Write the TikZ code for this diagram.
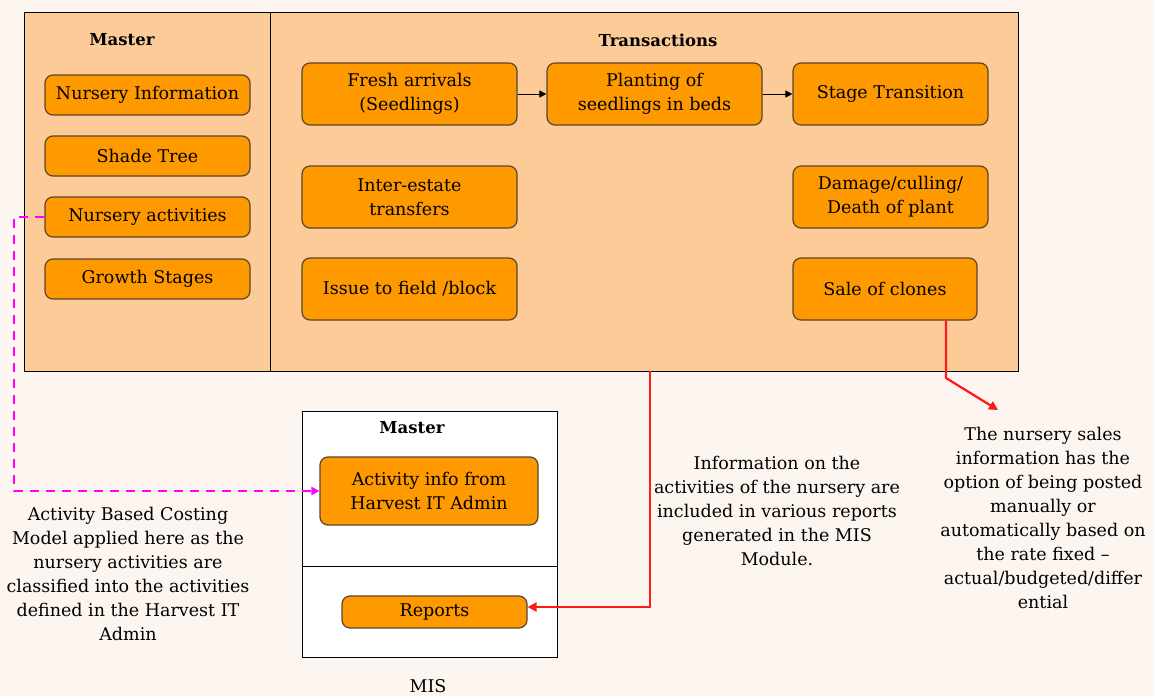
\documentclass[tikz,border=0pt]{standalone}
\usepackage{fontspec}
\setmainfont{DejaVu Serif}
\usetikzlibrary{arrows.meta, positioning}

\definecolor{pagebg}{HTML}{FDF6F0}
\definecolor{panelfill}{HTML}{FCCB98}
\definecolor{itemfill}{HTML}{FF9900}
\definecolor{itemline}{HTML}{5A4630}
\definecolor{linkred}{HTML}{FF1A1A}
\definecolor{linkmag}{HTML}{FF00FF}

\begin{document}
\begin{tikzpicture}[x=1pt, y=-1pt,
  font=\fontsize{17.5}{24}\selectfont,
  item/.style={draw=itemline, fill=itemfill, rounded corners=8pt, line width=1.2pt,
    align=center, inner sep=0pt},
  heading/.style={font=\fontsize{16.5}{20}\selectfont\bfseries},
  note/.style={align=center, inner sep=0pt},
  flow/.style={draw=black, line width=1pt, -{Triangle[length=7pt,width=7pt]}},
  redlink/.style={draw=linkred, line width=2.2pt, -{Triangle[length=9pt,width=9pt]}},
  maglink/.style={draw=linkmag, line width=2.2pt, dash pattern=on 9pt off 7pt,
    -{Triangle[length=8pt,width=8pt]}}]

  % page and panels
  \fill[pagebg] (0,0) rectangle (1154,696);
  \useasboundingbox (0,0) rectangle (1154,696);
  \draw[fill=panelfill, line width=1pt] (24,12) rectangle (1018,371);
  \draw[line width=1pt] (270,12) -- (270,371);
  \draw[fill=white, line width=1pt] (302,411) rectangle (557,657);
  \draw[line width=1pt] (302,566) -- (557,566);

  % Master column
  \node[heading] (mastertop) at (122,40) {Master};
  \node[item, minimum width=205pt, minimum height=40pt] (nurinfo) at (147.5,95) {Nursery Information};
  \node[item, minimum width=205pt, minimum height=40pt] (shade) at (147.5,156) {Shade Tree};
  \node[item, minimum width=205pt, minimum height=40pt] (nuract) at (147.5,217) {Nursery activities};
  \node[item, minimum width=205pt, minimum height=40pt] (growth) at (147.5,279) {Growth Stages};

  % Transactions column
  \node[heading] (trans) at (658,40) {Transactions};
  \node[item, minimum width=215pt, minimum height=62pt] (fresh) at (409.5,94) {Fresh arrivals\\(Seedlings)};
  \node[item, minimum width=215pt, minimum height=62pt] (planting) at (654.5,94) {Planting of\\seedlings in beds};
  \node[item, minimum width=195pt, minimum height=62pt] (stage) at (890.5,94) {Stage Transition};
  \node[item, minimum width=215pt, minimum height=62pt] (interest) at (409.5,197) {Inter-estate\\transfers};
  \node[item, minimum width=195pt, minimum height=62pt] (damage) at (890.5,197) {Damage/culling/\\Death of plant};
  \node[item, minimum width=215pt, minimum height=62pt] (issue) at (409.5,289) {Issue to field /block};
  \node[item, minimum width=184pt, minimum height=62pt] (sale) at (885,289) {Sale of clones};

  \draw[flow] (fresh) -- (planting);
  \draw[flow] (planting) -- (stage);

  % MIS box
  \node[heading] (mastermis) at (412,428) {Master};
  \node[item, minimum width=218pt, minimum height=68pt] (actinfo) at (429,491) {Activity info from\\Harvest IT Admin};
  \node[item, minimum width=185pt, minimum height=32pt] (reports) at (434.5,612) {Reports};
  \node[inner sep=0pt] (mis) at (428,686) {MIS};

  % notes
  \node[note] (abcnote) at (128,574) {Activity Based Costing\\Model applied here as the\\nursery activities are\\classified into the activities\\defined in the Harvest IT\\Admin};
  \node[note] (misnote) at (777,511) {Information on the\\activities of the nursery are\\included in various reports\\generated in the MIS\\Module.};
  \node[note] (salenote) at (1043,518) {The nursery sales\\information has the\\option of being posted\\manually or\\automatically based on\\the rate fixed --\\actual/budgeted/differ\\ential};

  % links
  \coordinate (misexit) at (650,371);
  \coordinate (saletip) at (998,410);
  \draw[maglink] (nuract.west) -- (14,217) |- (actinfo.west);
  \draw[redlink] (misexit) -- (650,607) -- (reports.east |- 0,607);
  \draw[redlink] (sale.south -| 946,0) -- (946,378) -- (saletip);
\end{tikzpicture}
\end{document}
